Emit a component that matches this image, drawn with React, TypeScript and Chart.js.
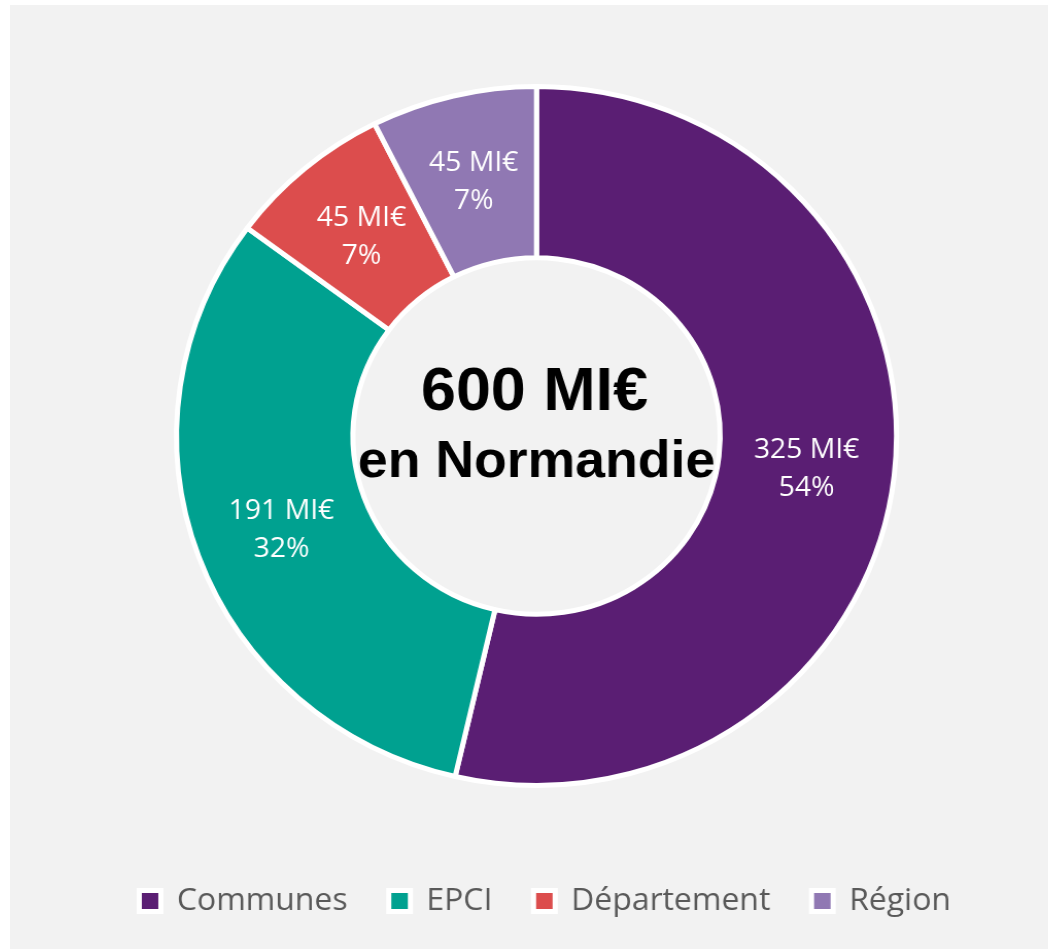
import React, { useEffect, useRef } from "react";
import { Chart, registerables } from "chart.js";

Chart.register(...registerables);

// ---- data ----
const categories = ["Communes", "EPCI", "Département", "Région"];
const amounts = [325, 191, 45, 45];
const sliceColors = ["#5a1e73", "#00a190", "#dc4d4d", "#9078b3"];
const unitLabel = "MI€";
const centerLines = ["600 MI€", "en Normandie"];

export default function App() {
  const ref = useRef<HTMLCanvasElement>(null);

  useEffect(() => {
    if (!ref.current) return;
    const total = amounts.reduce((a, b) => a + b, 0);

    const sliceLabels = {
      id: "sliceLabels",
      afterDatasetsDraw(chart: any) {
        const ctx = chart.ctx;
        const meta = chart.getDatasetMeta(0);
        ctx.save();
        ctx.fillStyle = "#ffffff";
        ctx.font = '27.5px "Open Sans"';
        ctx.textAlign = "center";
        ctx.textBaseline = "alphabetic";
        meta.data.forEach((arc: any, i: number) => {
          const p = arc.tooltipPosition(false);
          const v = amounts[i];
          ctx.fillText(`${v} ${unitLabel}`, p.x, p.y - 8);
          ctx.fillText(`${Math.round((v / total) * 100)}%`, p.x, p.y + 30);
        });
        ctx.restore();
      },
    };

    const centerText = {
      id: "centerText",
      afterDatasetsDraw(chart: any) {
        const ctx = chart.ctx;
        const arc = chart.getDatasetMeta(0).data[0];
        if (!arc) return;
        const cx = arc.x;
        const cy = arc.y;
        ctx.save();
        ctx.fillStyle = "#000000";
        ctx.textAlign = "center";
        ctx.textBaseline = "alphabetic";
        ctx.font = 'bold 61px "Liberation Sans", Arial, sans-serif';
        ctx.fillText(centerLines[0], cx - 2, cy - 26);
        ctx.font = 'bold 52px "Liberation Sans", Arial, sans-serif';
        ctx.fillText(centerLines[1], cx, cy + 41);
        ctx.restore();
      },
    };

    const chart = new Chart(ref.current, {
      type: "doughnut",
      data: {
        labels: categories,
        datasets: [
          {
            data: amounts,
            backgroundColor: sliceColors,
            borderColor: "#ffffff",
            borderWidth: 5,
            radius: 349.5,
          } as any,
        ],
      },
      options: {
        animation: false,
        responsive: true,
        maintainAspectRatio: false,
        cutout: "51%",
        layout: { padding: { left: 31, right: 0, top: 21.5, bottom: 22.5 } },
        plugins: {
          // empty spacer on the right so the ring sits slightly left of the legend centre
          title: {
            display: true,
            text: "",
            position: "right",
            font: { size: 10, lineHeight: 1 },
            padding: { top: 3.3, bottom: 3.3 },
          },
          legend: {
            position: "bottom",
            labels: {
              font: { family: '"Open Sans"', size: 31 },
              color: "#595959",
              boxWidth: 21,
              boxHeight: 21,
              padding: 40,
            },
          },
          tooltip: { enabled: false },
        },
      } as any,
      plugins: [sliceLabels, centerText],
    });

    return () => chart.destroy();
  }, []);

  return (
    <div
      style={{
        position: "absolute",
        left: 10,
        top: 5,
        width: 1038,
        height: 944,
        background: "#f2f2f2",
        overflow: "hidden",
      }}
    >
      <div
        style={{
          position: "relative",
          width: 1008,
          height: 944,
          transform: "scaleX(1.03)",
          transformOrigin: "0 0",
        }}
      >
        <canvas ref={ref} />
      </div>
    </div>
  );
}
